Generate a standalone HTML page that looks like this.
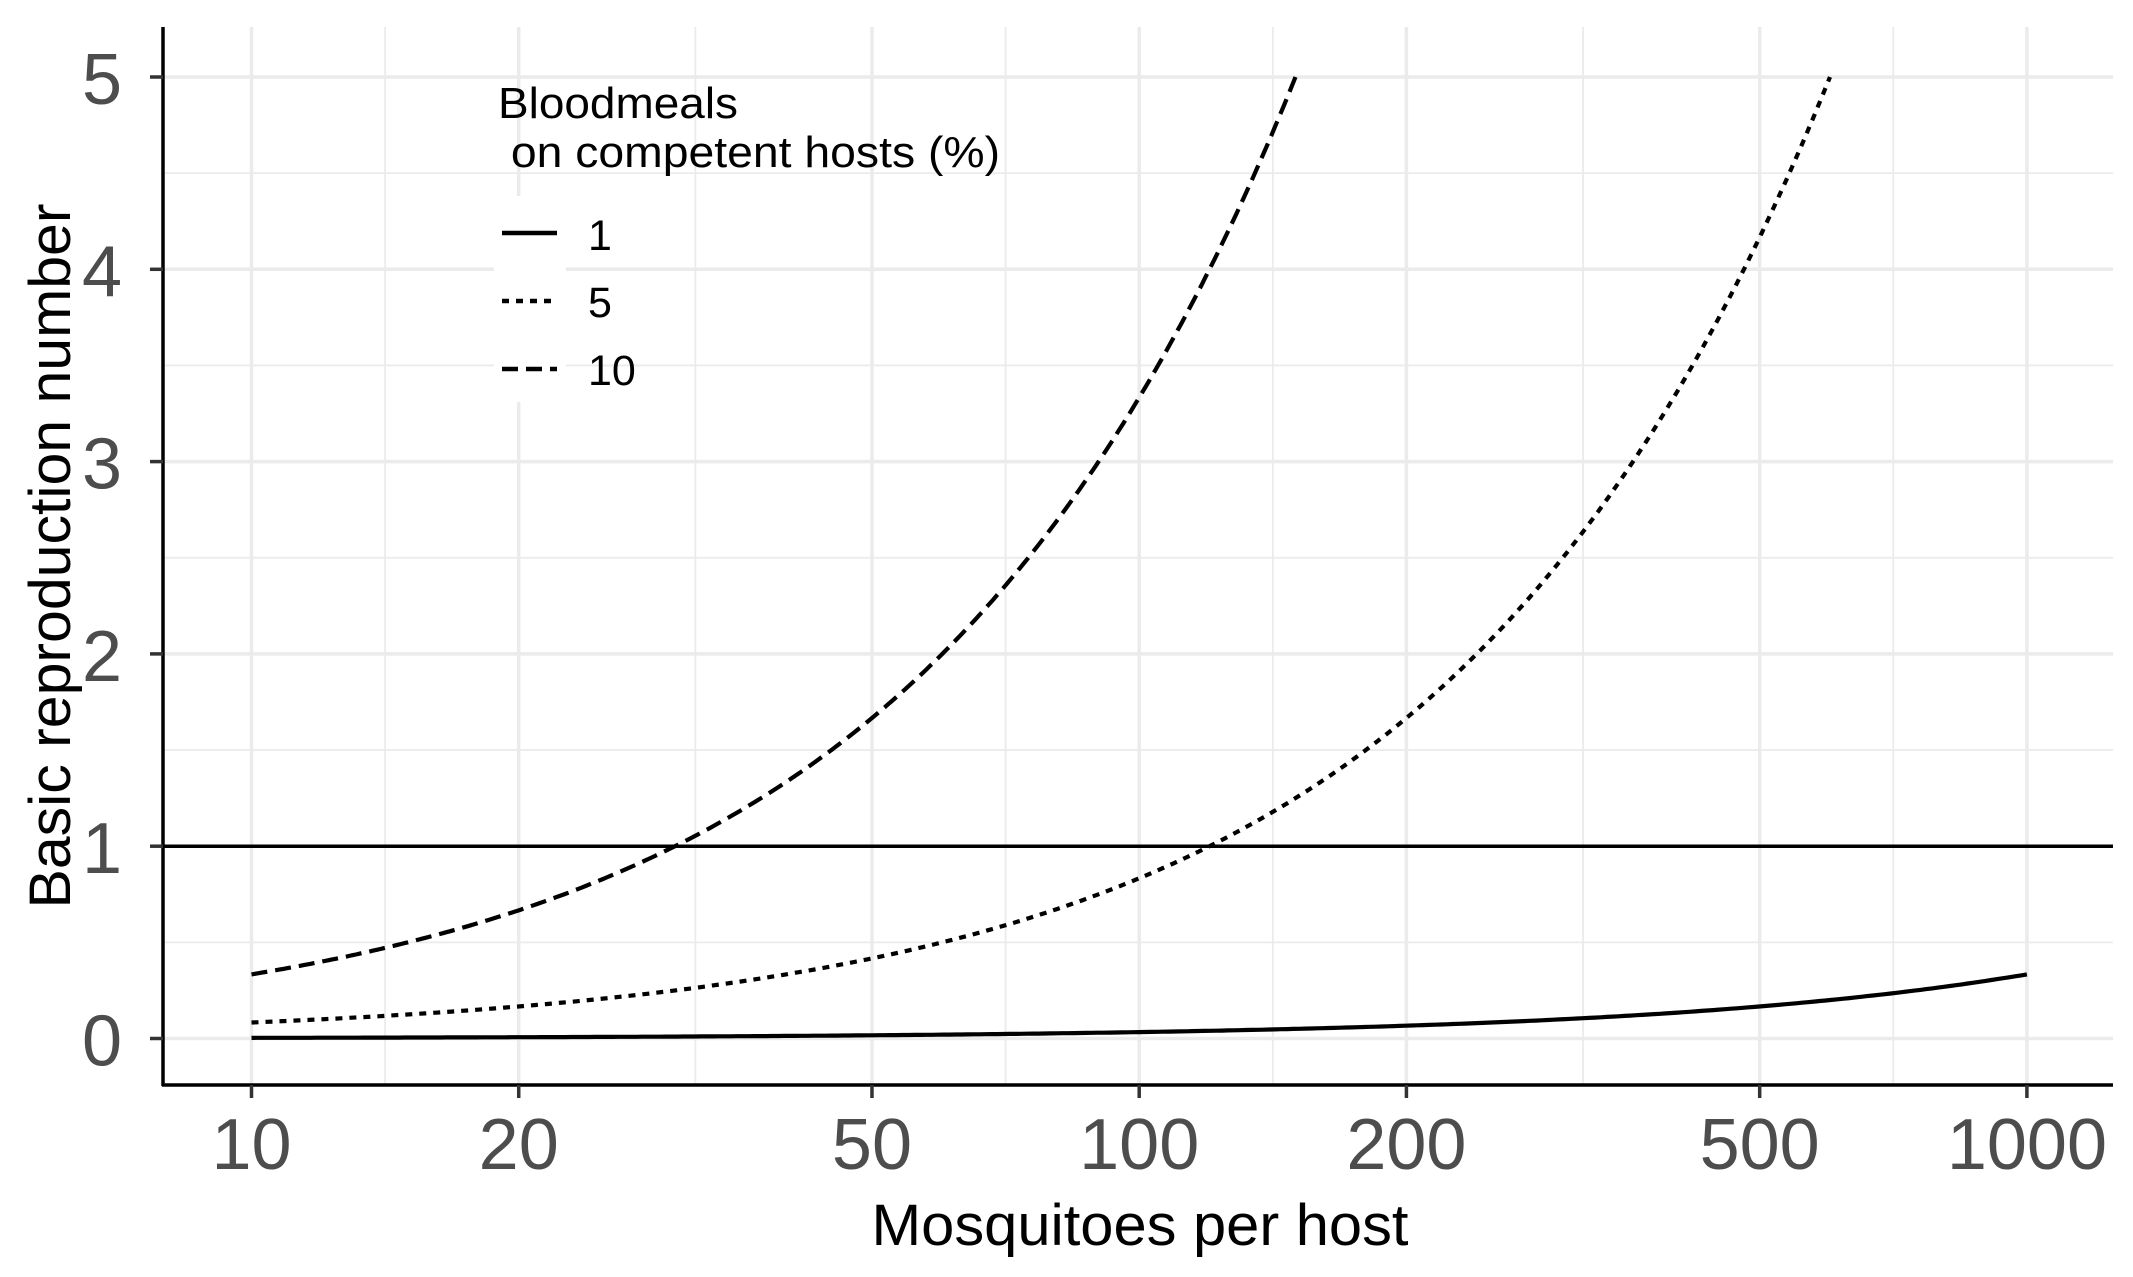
<!DOCTYPE html>
<html><head><meta charset="utf-8"><style>
html,body{margin:0;padding:0;background:#fff;}
svg{display:block;}
text{font-family:"Liberation Sans",Arial,sans-serif;}
</style></head><body>
<svg id="s" width="2133" height="1277" viewBox="0 0 2133 1277" xmlns="http://www.w3.org/2000/svg">
<rect width="2133" height="1277" fill="#fff"/>
<g id="grid"></g>
<g id="curves" fill="none" stroke="#000" stroke-width="4.2"></g>
<line x1="163" y1="846.2" x2="2113" y2="846.2" stroke="#000" stroke-width="3.5"/>
<!-- legend -->
<rect x="494" y="196" width="72" height="206" fill="#fff"/>
<text x="498" y="118" font-size="44" textLength="240" lengthAdjust="spacingAndGlyphs">Bloodmeals</text>
<text x="498" y="167" font-size="44" xml:space="preserve" textLength="502" lengthAdjust="spacingAndGlyphs"> on competent hosts (%)</text>
<line x1="502" y1="233" x2="557" y2="233" stroke="#000" stroke-width="4.5"/>
<line x1="502" y1="301" x2="557" y2="301" stroke="#000" stroke-width="4.5" stroke-dasharray="7,7"/>
<line x1="502" y1="369" x2="557" y2="369" stroke="#000" stroke-width="4.5" stroke-dasharray="16,8"/>
<text x="588" y="250" font-size="43">1</text>
<text x="588" y="317" font-size="43">5</text>
<text x="588" y="385" font-size="43">10</text>
<!-- axes -->
<line x1="163" y1="27" x2="163" y2="1086" stroke="#000" stroke-width="3.5"/>
<line x1="162" y1="1085" x2="2113" y2="1085" stroke="#000" stroke-width="3.5"/>
<g id="ticks"></g>
<text x="1140" y="1245" font-size="58" text-anchor="middle" fill="#000" textLength="537" lengthAdjust="spacingAndGlyphs">Mosquitoes per host</text>
<text transform="translate(70,556) rotate(-90)" font-size="58" text-anchor="middle" fill="#000" textLength="705" lengthAdjust="spacingAndGlyphs">Basic reproduction number</text>
</svg>
<script>
const NS="http://www.w3.org/2000/svg";
const X=m=>251.5+887.7*Math.log10(m/10);
const Y=v=>1038.5-v*192.3;
function el(p,tag,a,txt){const e=document.createElementNS(NS,tag);for(const k in a)e.setAttribute(k,a[k]);if(txt!==undefined)e.textContent=txt;p.appendChild(e);return e;}
const g=document.getElementById('grid');
for(let v=0.5;v<5.3;v+=1)el(g,'line',{x1:163,x2:2113,y1:Y(v),y2:Y(v),stroke:'#ebebeb','stroke-width':1.8});
[14.142,31.623,70.71,141.42,316.23,707.1].forEach(m=>el(g,'line',{x1:X(m),x2:X(m),y1:27,y2:1085,stroke:'#ebebeb','stroke-width':1.8}));
for(let v=0;v<=5;v++)el(g,'line',{x1:163,x2:2113,y1:Y(v),y2:Y(v),stroke:'#ebebeb','stroke-width':3.5});
const maj=[10,20,50,100,200,500,1000];
maj.forEach(m=>el(g,'line',{x1:X(m),x2:X(m),y1:27,y2:1085,stroke:'#ebebeb','stroke-width':3.5}));
const c=document.getElementById('curves');
function curve(p,mmax,dash){let d='';const n=300;for(let i=0;i<=n;i++){const m=10*Math.pow(mmax/10,i/n);const v=m*p*p/3000;d+=(i?'L':'M')+X(m).toFixed(1)+','+Y(v).toFixed(1);}const a={d:d};if(dash)a['stroke-dasharray']=dash;el(c,'path',a);}
curve(1,1000,null);curve(5,600,'7,7');curve(10,150,'16,8');
const t=document.getElementById('ticks');
for(let v=0;v<=5;v++){el(t,'line',{x1:150,x2:163,y1:Y(v),y2:Y(v),stroke:'#333','stroke-width':3.5});const e=el(t,'text',{x:122,y:Y(v)+27,'font-size':72,'text-anchor':'end',fill:'#4d4d4d'},String(v));}
maj.forEach(m=>{el(t,'line',{x1:X(m),x2:X(m),y1:1085,y2:1098,stroke:'#333','stroke-width':3.5});el(t,'text',{x:X(m),y:1169,'font-size':72,'text-anchor':'middle',fill:'#4d4d4d'},String(m));});
</script>
</body></html>
